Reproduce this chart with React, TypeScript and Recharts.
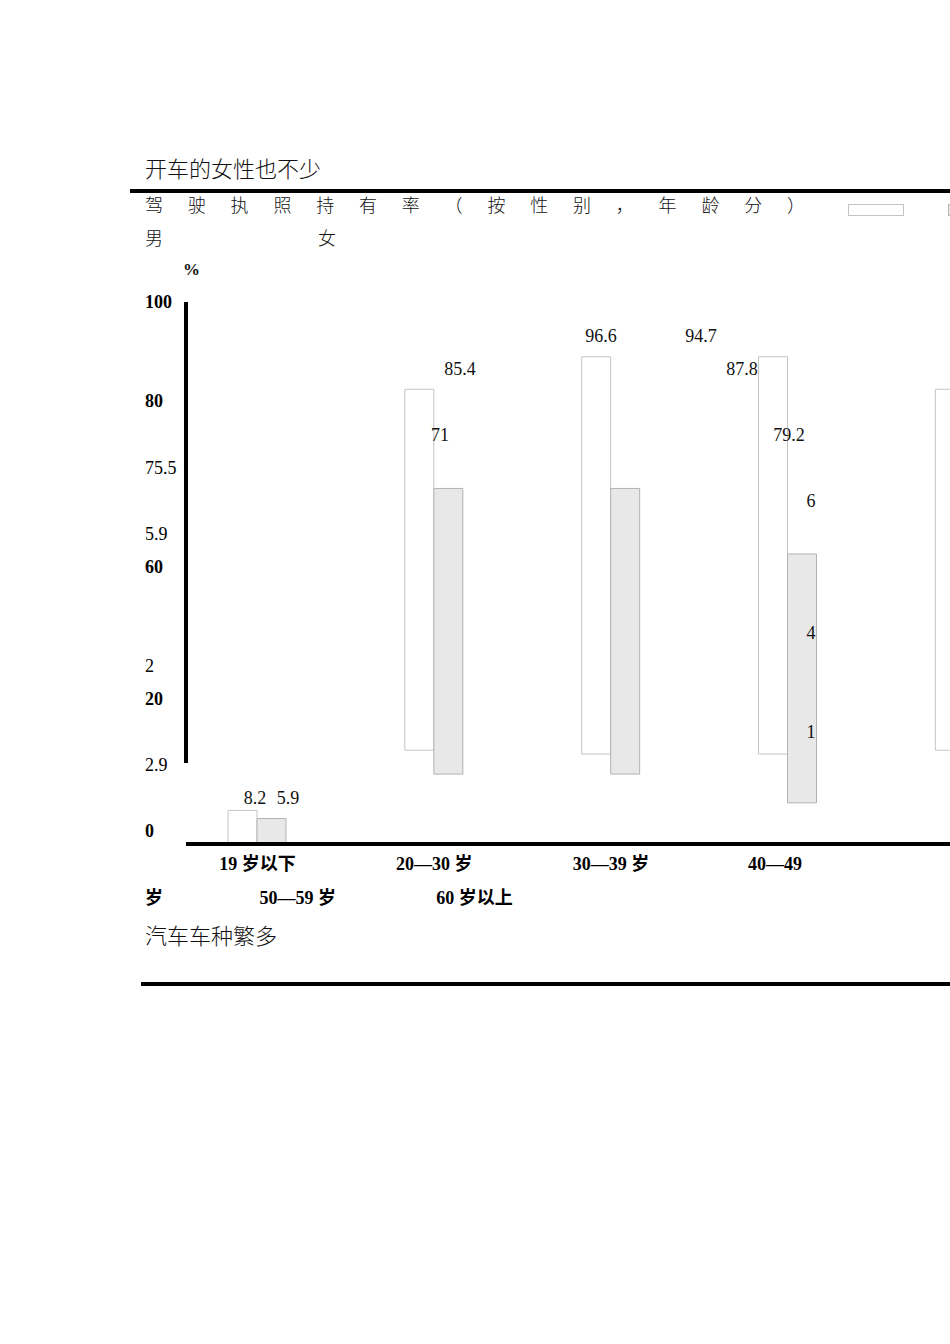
import React from "react";
import { BarChart, Bar, XAxis, YAxis, Legend } from "recharts";

// age groups along the x axis (the last one falls past the page edge)
const ageGroups = ["19 岁以下", "20—30 岁", "30—39 岁", "40—49 岁", "50—59 岁", "60 岁以上"];

// floating bars as drawn, in % units: [base, top]
const maleBase = [0, 17.3, 16.6, 16.6, 17.3, null];
const maleTop = [6.2, 83.9, 89.9, 89.9, 83.9, null];
const femaleBase = [0, 12.9, 12.9, 7.6, 3.9, null];
const femaleTop = [4.7, 65.6, 65.6, 53.5, 65.7, null];

const seriesNames = ["男", "女"];

// y axis column text, top to bottom
const yTickLabels = ["100", "80", "75.5", "5.9", "60", "2", "20", "2.9", "0"];
const yAxisValues = ["100", "80", "60", "20", "0"];

// stray value labels printed inside the plot
const valueLabels = ["8.2", "5.9", "85.4", "71", "96.6", "94.7", "87.8", "79.2", "6", "4", "1"];

// layout: text rows of the y column and value labels (row = 33px line)
const yLabelRows = [0, 3, 5, 7, 8, 11, 12, 14, 16];
const valueLabelLayout = [
  { x: 255, row: 15 },
  { x: 288, row: 15 },
  { x: 460, row: 2 },
  { x: 440, row: 4 },
  { x: 601, row: 1 },
  { x: 701, row: 1 },
  { x: 742, row: 2 },
  { x: 789, row: 4 },
  { x: 811, row: 6 },
  { x: 811, row: 10 },
  { x: 811, row: 13 },
];

const data = ageGroups.map((age, i) => ({
  age,
  male: maleTop[i] == null ? null : [maleBase[i], maleTop[i]],
  female: femaleTop[i] == null ? null : [femaleBase[i], femaleTop[i]],
}));

const SERIF = '"Liberation Serif", "DejaVu Serif", "Noto Sans CJK SC", serif';
const CJK = '"Noto Sans CJK SC", sans-serif';
const fills = ["#ffffff", "#e8e8e8"];
const strokes = ["#c4c4c4", "#b2b2b2"];
const rowY = (row: number) => 303 + row * 33;

const Txt = ({ x, y, size = 18, bold = false, center = false, family = SERIF, spacing = 0, color = "#111", weight, children }: any) => (
  <div
    style={{
      position: "absolute",
      left: x,
      top: y - size / 2,
      fontSize: size,
      lineHeight: `${size}px`,
      fontWeight: weight ?? (bold ? 700 : 400),
      fontFamily: family,
      letterSpacing: spacing,
      whiteSpace: "nowrap",
      color,
      transform: center ? "translateX(-50%)" : undefined,
    }}
  >
    {children}
  </div>
);

const RowTick = ({ y, payload }: any) => {
  const label = yTickLabels[yLabelRows.indexOf(payload.value)];
  return (
    <text
      x={145}
      y={y}
      dy="0.35em"
      textAnchor="start"
      fontFamily={SERIF}
      fontSize={18}
      fontWeight={yAxisValues.includes(label) ? 700 : 400}
      fill="#000"
    >
      {label}
    </text>
  );
};

// the category row wraps like document text past the right margin
const AgeTick = ({ x, payload }: any) => {
  const label: string = payload.value;
  const common = { fontFamily: SERIF, fontSize: 18, fontWeight: 700, fill: "#000", dy: "0.35em" };
  if (x < 700) {
    return <text x={x} y={864} textAnchor="middle" {...common}>{label}</text>;
  }
  if (x < 900) {
    const [head, tail] = label.split(" ");
    return (
      <g>
        <text x={x - 40} y={864} textAnchor="start" {...common}>{head}</text>
        <text x={145} y={898} textAnchor="start" {...common}>{tail}</text>
      </g>
    );
  }
  return <text x={x - 667} y={898} textAnchor="middle" {...common}>{label}</text>;
};

const LegendSwatches = ({ payload }: any) => (
  <div style={{ position: "relative", width: 950, height: 0 }}>
    {(payload || []).map((entry: any) => {
      const i = seriesNames.indexOf(entry.value);
      return (
        <React.Fragment key={entry.value}>
          <div
            style={{
              position: "absolute",
              left: 848 + i * 100,
              top: 204,
              width: 56,
              height: 12,
              boxSizing: "border-box",
              background: fills[i],
              border: `1px solid ${strokes[i]}`,
            }}
          />
          <div
            style={{
              position: "absolute",
              left: 145 + i * 173,
              top: 228,
              fontSize: 18,
              lineHeight: "18px",
              fontFamily: CJK,
              fontWeight: 300,
              color: "#111",
            }}
          >
            {entry.value}
          </div>
        </React.Fragment>
      );
    })}
  </div>
);

export default function App() {
  return (
    <div style={{ position: "absolute", left: 0, top: 0, width: 950, height: 1344, overflow: "hidden", background: "#fff" }}>
      <div style={{ position: "absolute", left: 0, top: 0 }}>
        <BarChart
          width={950}
          height={1000}
          data={data}
          barSize={29}
          barGap={0}
          margin={{ top: 302, right: 0, bottom: 56, left: 0 }}
        >
          <XAxis
            dataKey="age"
            height={100}
            interval={0}
            tickLine={false}
            axisLine={{ stroke: "#000", strokeWidth: 4 }}
            tick={<AgeTick />}
            padding={{ left: -17, right: -280 }}
          />
          <YAxis yAxisId="pct" type="number" domain={[0, 100]} width={0} hide />
          <YAxis
            yAxisId="rows"
            type="number"
            domain={[0, 16.4]}
            allowDataOverflow
            reversed
            width={186}
            ticks={yLabelRows}
            interval={0}
            tickLine={false}
            axisLine={{ stroke: "#000", strokeWidth: 4, strokeDasharray: "461 1000" }}
            tick={<RowTick />}
          />
          <Legend
            content={<LegendSwatches />}
            wrapperStyle={{ left: 0, top: 0, bottom: "auto", width: 950, height: 0 }}
          />
          <Bar
            yAxisId="pct"
            dataKey="male"
            name={seriesNames[0]}
            fill={fills[0]}
            stroke={strokes[0]}
            isAnimationActive={false}
          />
          <Bar
            yAxisId="pct"
            dataKey="female"
            name={seriesNames[1]}
            fill={fills[1]}
            stroke={strokes[1]}
            isAnimationActive={false}
          />
        </BarChart>
      </div>

      <Txt x={145} y={167} size={22} family={CJK} weight={300}>开车的女性也不少</Txt>
      <div style={{ position: "absolute", left: 130, top: 189, width: 820, height: 4, background: "#000" }} />
      <Txt x={145} y={204} size={18} family={CJK} weight={300} spacing={24.8}>驾驶执照持有率（按性别，年龄分）</Txt>
      <Txt x={183} y={269} size={17} bold>%</Txt>

      {valueLabels.map((v, i) => (
        <Txt key={i} x={valueLabelLayout[i].x} y={rowY(valueLabelLayout[i].row)} center>
          {v}
        </Txt>
      ))}

      <Txt x={145} y={934} size={22} family={CJK} weight={300}>汽车车种繁多</Txt>
      <div style={{ position: "absolute", left: 141, top: 982, width: 809, height: 4, background: "#000" }} />
    </div>
  );
}
